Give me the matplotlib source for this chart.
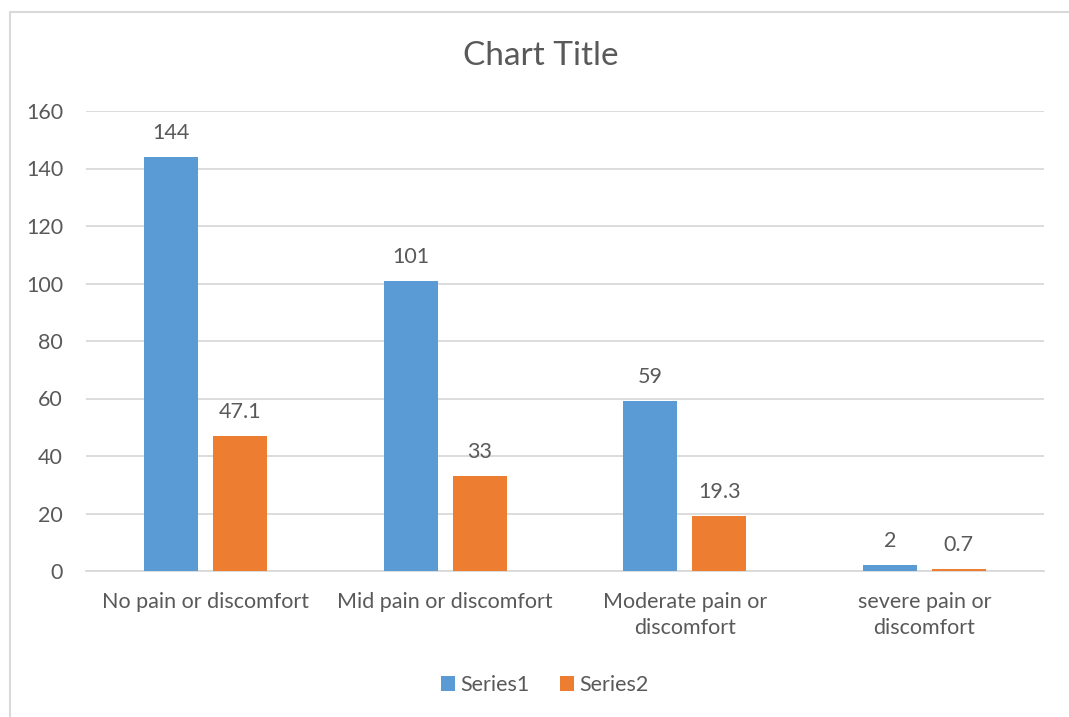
import numpy as np
import matplotlib.pyplot as plt
from matplotlib.lines import Line2D

categories = ["No pain or discomfort", "Mid pain or discomfort",
              "Moderate pain or\ndiscomfort", "severe pain or\ndiscomfort"]
series1 = [144, 101, 59, 2]
series2 = [47.1, 33, 19.3, 0.7]
series_names = ["Series1", "Series2"]

blue = "#5B9BD5"
orange = "#ED7D31"
txt = "#595959"
grid = "#D9D9D9"

plt.rcParams['font.family'] = ['Lato', 'DejaVu Sans']

fig = plt.figure(figsize=(10.69, 7.17), dpi=100)
W, H = 1069, 717

# chart border (top and left edges; the rest runs off the canvas)
fig.lines.append(Line2D([10 / W, 10 / W, 1.0], [0, 1 - 12 / H, 1 - 12 / H],
                        transform=fig.transFigure, color=grid, linewidth=1.5))

ax = fig.add_axes([86 / W, (H - 571) / H, (1044 - 86) / W, 460 / H])

x = np.arange(len(categories))
width = 0.225
off = 0.144
b1 = ax.bar(x - off, series1, width, color=blue, label=series_names[0], zorder=3)
b2 = ax.bar(x + off, series2, width, color=orange, label=series_names[1], zorder=3)

for bars, vals in ((b1, series1), (b2, series2)):
    for rect, v in zip(bars, vals):
        ax.annotate(f"{v:g}", (rect.get_x() + rect.get_width() / 2, v),
                    xytext=(0, 10), textcoords="offset points",
                    ha="center", va="bottom", fontsize=15.5, color=txt)

ax.set_xlim(-0.5, 3.5)
ax.set_ylim(0, 160)
ax.set_yticks(range(0, 161, 20))
ax.set_xticks(x)
ax.set_xticklabels(categories, fontsize=15.5, color=txt, linespacing=1.4)
ax.tick_params(axis='y', labelsize=15.5, labelcolor=txt, length=0, pad=16.5)
ax.tick_params(axis='x', length=0, pad=15)
ax.grid(axis='y', color=grid, linewidth=1.3, zorder=0)
for s in ("top", "right", "left"):
    ax.spines[s].set_visible(False)
ax.spines["bottom"].set_color(grid)
ax.spines["bottom"].set_linewidth(1.3)

fig.text(541 / W, 1 - 56 / H, "Chart Title", ha="center", va="center",
         fontsize=24, color=txt)

fig.legend(loc="center", bbox_to_anchor=(545 / W, 1 - 685 / H), ncol=2,
           frameon=False, fontsize=15.5, labelcolor=txt, handlelength=0.65,
           handleheight=0.65, handletextpad=0.25, columnspacing=1.4)

fig.savefig("out.png", dpi=100, facecolor="white")
